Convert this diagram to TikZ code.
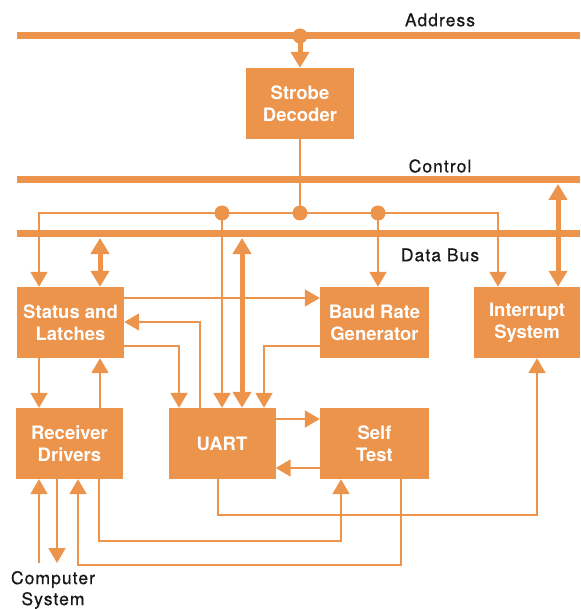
\documentclass[tikz,border=0pt]{standalone}
\usepackage{fontspec}
\setsansfont{TeX Gyre Heros}
\usetikzlibrary{arrows.meta}
\definecolor{hporange}{RGB}{236,147,76}
\tikzset{
  blok/.style={fill=hporange, text=white, inner sep=0pt, minimum width=107pt,
    minimum height=71pt, align=center,
    font=\sffamily\bfseries\fontsize{18.5}{22}\selectfont},
  lbl/.style={text=black!90, align=center,
    font=\sffamily\fontsize{17.5}{21}\selectfont\addfontfeatures{LetterSpace=6,FakeBold=0.6}},
  bus/.style={draw=hporange, line width=7pt},
  wire/.style={draw=hporange, line width=1.9pt},
  wirearr/.style={wire, -{Triangle[width=17pt,length=15pt]}},
  fat/.style={draw=hporange, line width=5pt,
    {Triangle[width=18pt,length=16pt]}-{Triangle[width=18pt,length=16pt]}},
  fatarr/.style={draw=hporange, line width=5pt, -{Triangle[width=18pt,length=16pt]}},
  jdot/.style={circle, fill=hporange, inner sep=0pt, minimum size=15pt}
}
\begin{document}
\begin{tikzpicture}[x=1pt, y=-1pt]
\useasboundingbox (0,0) rectangle (580,609);

\node[lbl] (addr) at (440,20) {Address};
\node[lbl] (ctrl) at (440,166) {Control};
\node[lbl] (data) at (440,255) {Data Bus};
\node[lbl] (comp) at (53,590) {Computer\\System};

\coordinate (abusL) at (17,36);   \coordinate (abusR) at (580,36);
\coordinate (cbusL) at (17,180);  \coordinate (cbusR) at (580,180);
\coordinate (dbusL) at (17,234);  \coordinate (dbusR) at (580,234);
\draw[bus] (abusL) -- (abusR);
\draw[bus] (cbusL) -- (cbusR);
\draw[bus] (dbusL) -- (dbusR);

\node[blok, minimum width=108pt] (strobe) at (300,103.5) {Strobe\\Decoder};
\node[blok] (status) at (70.5,322.5) {Status and\\Latches};
\node[blok, minimum width=109pt] (baud) at (374.5,322.5) {Baud Rate\\Generator};
\node[blok, minimum width=106pt] (intr) at (527,322.5) {Interrupt\\System};
\node[blok] (recv) at (69.5,443.5) {Receiver\\Drivers};
\node[blok] (uart) at (222,443.5) {UART};
\node[blok, minimum width=109pt] (self) at (374.5,443.5) {Self\\Test};

\node[jdot] (adot) at (300,36) {};
\node[jdot] (d1) at (222,213) {};
\node[jdot] (d2) at (300,213) {};
\node[jdot] (d3) at (378,213) {};

\draw[fatarr] (adot.center) -- (strobe.north);
\draw[wire] (strobe.south) -- (d2.center);
\draw[wire] (d1.center) -- (d3.center);
\draw[wirearr] (d1.center) -- (39,213) -- (39,0 |- status.north);
\draw[wirearr] (d3.center) -- (498,213) -- (498,0 |- intr.north);
\draw[wirearr] (d1.center) -- (d1 |- uart.north);
\draw[wirearr] (d3.center) -- (d3 |- baud.north);

\draw[fat] (100,238) -- (100,0 |- status.north);
\draw[fat] (242,238) -- (242,0 |- uart.north);
\draw[fat] (558,184) -- (558,0 |- intr.north);

\draw[wirearr] (status.east |- 0,298) -- (baud.west |- 0,298);
\draw[wirearr] (200,0 |- uart.north) -- (200,322) -- (status.east |- 0,322);
\draw[wirearr] (status.east |- 0,346) -- (179,346) -- (179,0 |- uart.north);
\draw[wirearr] (baud.west |- 0,346) -- (264,346) -- (264,0 |- uart.north);

\draw[wirearr] (39,0 |- status.south) -- (39,0 |- recv.north);
\draw[wirearr] (100,0 |- recv.north) -- (100,0 |- status.south);
\draw[wirearr] (uart.east |- 0,419) -- (self.west |- 0,419);
\draw[wirearr] (self.west |- 0,468) -- (uart.east |- 0,468);

\draw[wirearr] (218,0 |- uart.south) -- (218,515) -- (537,515) -- (537,0 |- intr.south);
\draw[wirearr] (99,0 |- recv.south) -- (99,541) -- (341,541) -- (341,0 |- self.south);
\draw[wirearr] (401,0 |- self.south) -- (401,565) -- (78,565) -- (78,0 |- recv.south);
\draw[wirearr] (39,563) -- (39,0 |- recv.south);
\draw[wirearr] (57,0 |- recv.south) -- (57,563);

\end{tikzpicture}
\end{document}
